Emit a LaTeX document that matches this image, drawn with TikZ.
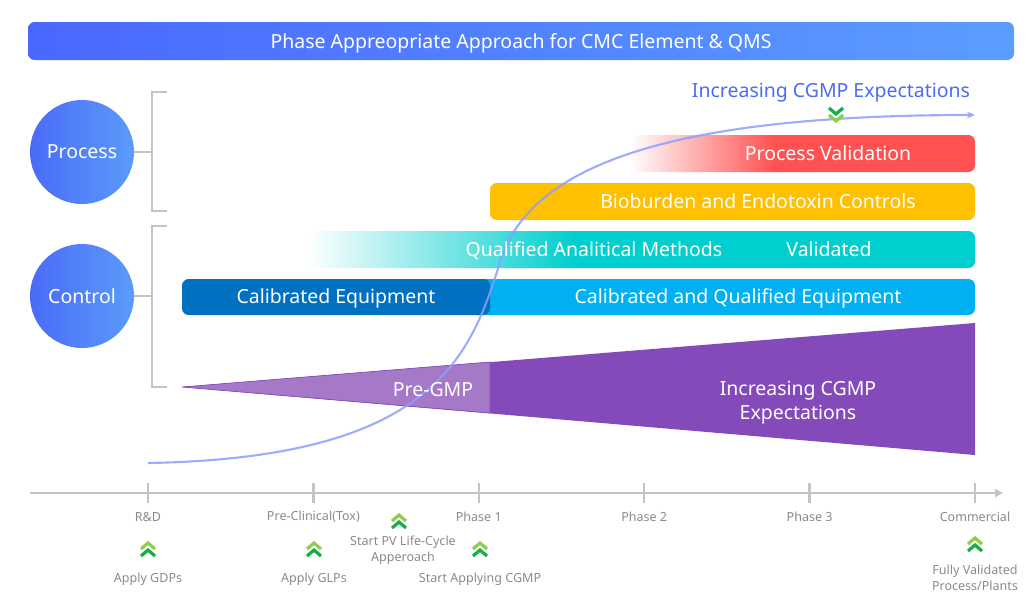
\documentclass[tikz,border=0pt]{standalone}
\usepackage{fontspec}
\setmainfont{Noto Sans}
\usetikzlibrary{arrows.meta,positioning,fadings}

\definecolor{titleLeft}{HTML}{4A68FF}
\definecolor{titleRight}{HTML}{5A9DFF}
\definecolor{circLeft}{HTML}{4A6BF8}
\definecolor{circRight}{HTML}{5A9CF8}
\definecolor{cgmpBlue}{HTML}{4B6BF0}
\definecolor{pvRed}{HTML}{FF5151}
\definecolor{bioYellow}{HTML}{FFC000}
\definecolor{qamTeal}{HTML}{00CFCF}
\definecolor{calDark}{HTML}{0070C0}
\definecolor{calLight}{HTML}{00B0F0}
\definecolor{purpleDark}{HTML}{854ABA}
\definecolor{purpleLight}{HTML}{A678C8}
\definecolor{curveBlue}{HTML}{8C9EFF}
\definecolor{lineGray}{HTML}{C4C4C4}
\definecolor{textGray}{HTML}{8A8A8A}
\definecolor{chevLight}{HTML}{8DCF4A}
\definecolor{chevDark}{HTML}{16AD4A}

\newcommand*{\axisY}{493}
\newcommand*{\tickStep}{165.4}
\newcommand*{\firstTick}{148}
\newcommand*{\barRight}{975}

\tikzset{
  bigtext/.style={text=white, font=\fontsize{14.6pt}{18pt}\selectfont, inner sep=0pt},
  phasecircle/.style={circle, minimum size=78pt, inner sep=0pt, left color=circLeft,
    right color=circRight, text=white, font=\fontsize{14.6pt}{18pt}\selectfont},
  bracket/.style={lineGray, line width=1.9pt},
  whitefade/.style={white, path fading=east},
  ticklabel/.style={textGray, font=\fontsize{9.4pt}{12pt}\selectfont, inner sep=0pt, align=center},
  upchev/.pic={
    \draw[chevLight, line width=2.4pt] (-7,0) -- (0,-6) -- (7,0);
    \draw[chevDark, line width=2.4pt] (-7,7) -- (0,1) -- (7,7);
  },
  downchev/.pic={
    \draw[chevDark, line width=2.4pt] (-7,-7) -- (0,-1) -- (7,-7);
    \draw[chevLight, line width=2.4pt] (-7,0) -- (0,6) -- (7,0);
  },
}

\begin{document}
\begin{tikzpicture}[x=0.75pt, y=-0.75pt]
\useasboundingbox (0,0) rectangle (1034,607);

% title banner
\shade[left color=titleLeft, right color=titleRight, rounded corners=5] (28,22) rectangle (1014,60);
\node[bigtext] (title) at (521,43) {Phase Appreopriate Approach for CMC Element \& QMS};

% process / control circles with brackets
\node[phasecircle] (process) at (82,152) {Process};
\node[phasecircle] (control) at (82,296) {Control};
\coordinate (procBrace) at (152,152);
\coordinate (ctrlBrace) at (152,296);
\draw[bracket] (167,92) -- (152,92) -- (152,211) -- (167,211);
\draw[bracket] (167,226) -- (152,226) -- (152,387) -- (167,387);
\draw[bracket] (process.east) -- (procBrace);
\draw[bracket] (control.east) -- (ctrlBrace);

% bars (faded ones get a white overlay that fades out to the right)
\fill[pvRed, rounded corners=5] (632,135) rectangle (\barRight,172);
\fill[whitefade] (630,134) rectangle (775,173);
\fill[bioYellow, rounded corners=5] (490,183) rectangle (\barRight,220);
\fill[qamTeal, rounded corners=5] (310,231) rectangle (\barRight,268);
\fill[whitefade] (308,230) rectangle (575,269);
\fill[calLight, rounded corners=5] (470,279) rectangle (\barRight,315);
\fill[calDark, rounded corners=5] (182,279) rectangle (490,315);

% pre-gmp wedge
\fill[purpleDark] (182,387) -- (\barRight,323) -- (\barRight,455) -- cycle;
\filldraw[fill=purpleLight, draw=purpleDark, line width=0.5pt] (182,387) -- (490,362) -- (490,413) -- cycle;

% cgmp curve
\draw[curveBlue, opacity=0.85, line width=1.6pt, -{Stealth[length=6pt, width=5pt]}]
  (148,463) .. controls (430,458) and (470,360) .. (500,262)
  .. controls (530,162) and (680,115) .. (\barRight,115);
\node[cgmpBlue, font=\fontsize{14.6pt}{18pt}\selectfont, inner sep=0pt] (cgmp) at (831,93) {Increasing CGMP Expectations};
\pic at (836,115) {downchev};

% bar labels
\node[bigtext] (pv) at (828,153) {Process Validation};
\node[bigtext] (bio) at (758,201) {Bioburden and Endotoxin Controls};
\node[bigtext] (qam) at (594,251) {Qualified Analitical Methods};
\node[bigtext] (valid) at (829,249) {Validated};
\node[bigtext] (cal) at (336,298) {Calibrated Equipment};
\node[bigtext] (calqual) at (738,298) {Calibrated and Qualified Equipment};
\node[bigtext] (pregmp) at (433,390) {Pre-GMP};
\node[bigtext, align=center] (incr) at (798,403) {Increasing CGMP\\Expectations};

% time axis
\coordinate (axisStart) at (30,\axisY);
\coordinate (axisEnd) at (1003,\axisY);
\draw[lineGray, line width=1.9pt, -{Triangle[length=6pt, width=6pt]}] (axisStart) -- (axisEnd);
\foreach \i/\lbl in {0/R\&D, 1/Pre-Clinical(Tox), 2/Phase 1, 3/Phase 2, 4/Phase 3, 5/Commercial} {
    \draw[lineGray, line width=1.9pt] ({\firstTick+\i*\tickStep},483) -- ({\firstTick+\i*\tickStep},503);
    \node[ticklabel] (phase\i) at ({\firstTick+\i*\tickStep},517) {\lbl};
}

% milestones
\pic at (148,549) {upchev};
\pic at (314,549) {upchev};
\pic at (399,521) {upchev};
\pic at (480,549) {upchev};
\pic at (975,544) {upchev};
\node[ticklabel] (gdp) at (148,579) {Apply GDPs};
\node[ticklabel] (glp) at (314,579) {Apply GLPs};
\node[ticklabel] (pvlc) at (403,550) {Start PV Life-Cycle\\Apperoach};
\node[ticklabel] (startcgmp) at (480,579) {Start Applying CGMP};
\node[ticklabel] (fully) at (975,578) {Fully Validated\\Process/Plants};

\end{tikzpicture}
\end{document}
